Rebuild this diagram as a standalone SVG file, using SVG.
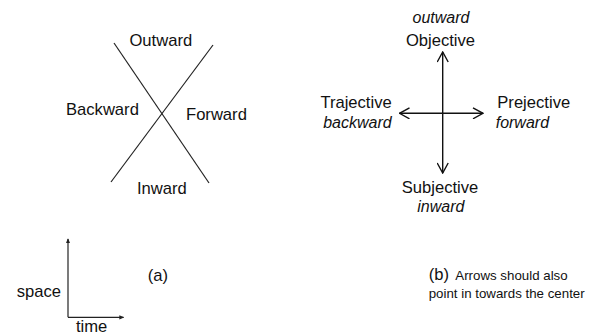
<svg xmlns="http://www.w3.org/2000/svg" width="591" height="334" viewBox="0 0 591 334">
<style>
text{font-family:"Liberation Sans",Arial,sans-serif;fill:#111;}
.l{font-size:16.6px;}
.i{font-size:16px;font-style:italic;}
.s{font-size:13.3px;}
.ln{stroke:#222;stroke-width:1.2;fill:none;}
.ar{stroke:#111;stroke-width:1.4;fill:none;}
</style>
<defs>
<marker id="chev" viewBox="0 0 12 12" refX="11" refY="6" markerWidth="12" markerHeight="12" markerUnits="userSpaceOnUse" orient="auto">
<path d="M1,0.5 L11,6 L1,11.5" fill="none" stroke="#111" stroke-width="1.4"/>
</marker>
<marker id="tip" viewBox="0 0 6 6" refX="5" refY="3" markerWidth="5" markerHeight="5" markerUnits="userSpaceOnUse" orient="auto">
<path d="M0,0.5 L6,3 L0,5.5 Z" fill="#222"/>
</marker>
</defs>
<g id="connectors">
<line class="ln" x1="114" y1="43" x2="209" y2="183"/>
<line class="ln" x1="213" y1="45" x2="111" y2="182"/>
<line class="ar" x1="442.7" y1="113.3" x2="442.7" y2="52" marker-end="url(#chev)"/>
<line class="ar" x1="442.7" y1="113.3" x2="442.7" y2="173" marker-end="url(#chev)"/>
<line class="ar" x1="442.7" y1="113.3" x2="399.5" y2="113.3" marker-end="url(#chev)"/>
<line class="ar" x1="442.7" y1="113.3" x2="483" y2="113.3" marker-end="url(#chev)"/>
<line class="ln" x1="68" y1="317.3" x2="68" y2="239" marker-end="url(#tip)"/>
<line class="ln" x1="68" y1="317.3" x2="123.5" y2="317.3" marker-end="url(#tip)"/>
</g>
<g id="outward"><text class="l" x="160.8" y="46" text-anchor="middle">Outward</text></g>
<g id="backward"><text class="l" x="66" y="115">Backward</text></g>
<g id="forward"><text class="l" x="186" y="120">Forward</text></g>
<g id="inward"><text class="l" x="137" y="194">Inward</text></g>
<g id="objective"><text class="i" x="441" y="22.5" text-anchor="middle">outward</text><text class="l" x="440.5" y="46" text-anchor="middle">Objective</text></g>
<g id="trajective"><text class="l" x="391.7" y="108.3" text-anchor="end">Trajective</text><text class="i" x="391.7" y="128.3" text-anchor="end">backward</text></g>
<g id="prejective"><text class="l" x="497.3" y="108.3">Prejective</text><text class="i" x="495.7" y="128.3">forward</text></g>
<g id="subjective"><text class="l" x="440" y="192.7" text-anchor="middle">Subjective</text><text class="i" x="440.8" y="211.7" text-anchor="middle">inward</text></g>
<g id="space"><text class="l" x="61" y="296.7" text-anchor="end" font-size="15.7px">space</text></g>
<g id="time"><text class="l" x="76" y="331.5">time</text></g>
<g id="label-a"><text class="l" x="147.7" y="281">(a)</text></g>
<g id="label-b"><text class="l" x="428.7" y="280">(b)</text><text class="s" x="455.3" y="280">Arrows should also</text><text class="s" x="428.7" y="297.7">point in towards the center</text></g>
</svg>
